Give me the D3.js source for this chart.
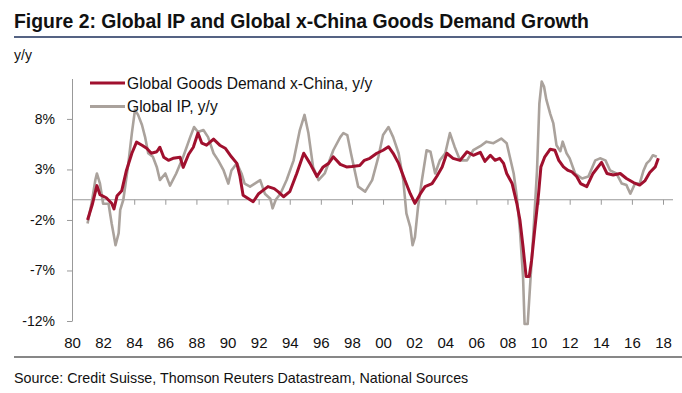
<!DOCTYPE html>
<html>
<head>
<meta charset="utf-8">
<script src="https://cdnjs.cloudflare.com/ajax/libs/d3/7.8.5/d3.min.js"></script>
<style>
body{margin:0;background:#fff;}
svg text{font-family:"Liberation Sans",Arial,sans-serif;fill:#111;}
</style>
</head>
<body>
<script>
// series, y/y %
var demandYears=[1981.0,1981.3,1981.6,1981.8,1982.2,1982.55,1982.7,1982.9,1983.2,1983.5,1983.85,1984.15,1984.5,1984.8,1985.1,1985.45,1985.65,1985.9,1986.2,1986.5,1986.95,1987.15,1987.5,1987.8,1988.1,1988.35,1988.65,1989.1,1989.5,1989.85,1990.25,1990.6,1990.8,1991.0,1991.35,1991.65,1992.0,1992.3,1992.6,1993.0,1993.25,1993.6,1994.0,1994.45,1994.9,1995.3,1995.75,1996.15,1996.5,1996.8,1997.25,1997.65,1998.0,1998.5,1998.8,1999.15,1999.6,2000.0,2000.35,2000.65,2001.0,2001.4,2001.75,2002.05,2002.4,2002.7,2003.15,2003.45,2003.8,2004.1,2004.5,2004.95,2005.4,2005.8,2006.25,2006.55,2006.9,2007.2,2007.5,2007.75,2007.95,2008.3,2008.6,2008.8,2009.0,2009.2,2009.4,2009.55,2009.75,2010.0,2010.15,2010.4,2010.75,2011.05,2011.3,2011.6,2011.9,2012.15,2012.45,2012.7,2013.1,2013.5,2014.05,2014.4,2014.8,2015.25,2015.65,2016.1,2016.5,2016.85,2017.15,2017.5,2017.7];
var demandValues=[-2.0,-0.5,1.4,0.5,0.2,-0.35,-0.9,0.4,0.9,2.9,4.6,5.7,5.4,5.1,4.6,4.75,5.2,4.2,3.9,4.1,4.2,3.2,4.5,5.2,6.6,5.6,5.4,6.0,5.4,5.1,4.25,3.6,2.3,0.45,0.1,-0.2,0.6,0.95,1.3,1.1,0.8,0.3,0.8,2.6,4.6,3.6,2.3,3.25,3.6,4.25,3.5,3.25,3.3,3.4,3.9,4.1,4.6,4.9,5.25,4.6,3.6,1.95,0.6,-0.35,0.6,1.3,1.6,2.3,3.25,4.6,4.1,3.9,4.75,4.4,4.7,3.8,4.4,3.9,4.1,3.6,2.6,1.6,-0.35,-2.0,-4.65,-7.6,-7.6,-6.0,-3.0,0.6,3.25,4.25,5.0,4.9,3.9,3.25,2.9,2.75,2.3,1.6,1.3,2.6,3.7,2.6,2.45,2.6,2.1,1.7,1.45,1.9,2.7,3.25,4.1];
var ipYears=[1981.0,1981.3,1981.5,1981.6,1981.8,1982.0,1982.35,1982.55,1982.65,1982.8,1983.0,1983.1,1983.3,1983.6,1983.85,1984.05,1984.25,1984.5,1984.7,1984.9,1985.2,1985.45,1985.65,1986.0,1986.3,1986.7,1987.15,1987.6,1987.85,1988.1,1988.45,1988.75,1989.1,1989.4,1989.75,1990.05,1990.25,1990.6,1990.9,1991.1,1991.45,1991.75,1992.1,1992.4,1992.75,1992.9,1993.1,1993.4,1993.8,1994.25,1994.65,1994.95,1995.2,1995.5,1995.85,1996.25,1996.8,1997.25,1997.45,1997.7,1997.95,1998.4,1998.85,1999.3,1999.7,2000.0,2000.35,2000.65,2001.0,2001.3,2001.5,2001.75,2001.9,2002.05,2002.25,2002.5,2002.8,2003.05,2003.35,2003.65,2004.0,2004.3,2004.6,2004.95,2005.4,2005.8,2006.25,2006.65,2007.1,2007.6,2007.95,2008.15,2008.4,2008.6,2008.8,2009.0,2009.1,2009.3,2009.45,2009.65,2009.9,2010.05,2010.2,2010.35,2010.5,2010.75,2010.95,2011.15,2011.4,2011.55,2011.8,2012.0,2012.35,2012.8,2013.2,2013.65,2013.95,2014.3,2014.6,2015.0,2015.35,2015.65,2015.9,2016.2,2016.5,2016.75,2016.95,2017.15,2017.35,2017.6];
var ipValues=[-2.35,0.0,1.95,2.6,1.6,-0.4,-0.4,-2.35,-3.2,-4.5,-3.3,-1.0,0.0,3.3,6.6,8.9,8.4,7.4,6.2,4.6,4.25,3.25,1.95,2.6,1.4,2.6,4.25,6.2,7.2,6.7,6.9,6.2,4.6,3.9,2.9,1.6,2.9,3.6,2.6,1.6,1.3,1.6,1.95,0.6,0.1,-0.85,0.0,0.6,1.95,3.9,6.9,8.4,6.6,3.25,1.95,2.6,4.9,6.2,6.6,6.4,4.5,1.3,0.8,1.95,4.25,6.4,7.2,6.2,4.6,1.95,-1.35,-2.7,-4.5,-3.7,-0.7,1.95,4.9,4.75,2.6,3.9,4.6,6.6,5.25,3.9,3.9,4.9,5.3,5.75,5.6,6.05,5.6,4.25,2.6,0.3,-3.0,-7.6,-12.3,-12.3,-8.6,-3.7,2.9,9.5,11.7,11.2,9.9,8.5,7.55,5.4,4.8,5.75,4.6,4.1,2.6,2.1,2.3,3.9,4.1,3.9,2.9,2.6,1.6,1.45,0.6,1.6,1.6,2.9,3.6,3.9,4.4,4.25];

var seriesNames=["Global Goods Demand x-China, y/y","Global IP, y/y"];
var seriesColors=["#a0102e","#aaa29c"];
var yTicks=[-12,-7,-2,3,8];
var xTicks=d3.range(1980,2019,2);

var demand=demandYears.map(function(d,i){return {x:d,y:demandValues[i]}});
var ip=ipYears.map(function(d,i){return {x:d,y:ipValues[i]}});

var svg=d3.select('body').append('svg')
    .attr('width',682)
    .attr('height',393);

var x=d3.scaleLinear().domain([1980,2018]).range([72,663]);
var y=d3.scaleLinear().domain([-12,12]).range([321,78.5]);

// title + rules
svg.append("text").attr("x",14).attr("y",28)
    .attr("font-size",19.4).attr("font-weight","bold")
    .text("Figure 2: Global IP and Global x-China Goods Demand Growth");
svg.append("line").attr("x1",14).attr("x2",682).attr("y1",37).attr("y2",37)
    .attr("stroke","#1c2f5a").attr("stroke-width",1.5);
svg.append("text").attr("x",14).attr("y",60).attr("font-size",14).text("y/y");

svg.append("line").attr("x1",14).attr("x2",682).attr("y1",357).attr("y2",357)
    .attr("stroke","#111").attr("stroke-width",1.2);
svg.append("text").attr("x",14).attr("y",383).attr("font-size",14.3)
    .text("Source: Credit Suisse, Thomson Reuters Datastream, National Sources");

// y axis
var yAxis=svg.append("g").attr("transform","translate(72,0)")
    .call(d3.axisLeft(y).tickValues(yTicks).tickSize(5).tickSizeOuter(0).tickPadding(12)
        .tickFormat(function(d){return d+"%"}));
yAxis.selectAll("path,line").attr("stroke","#999");
yAxis.selectAll("text").attr("font-size",14).attr("font-family",null);

// zero line with year ticks
var zeroAxis=svg.append("g").attr("transform","translate(0,"+y(0)+")")
    .call(d3.axisBottom(x).tickValues(xTicks).tickSize(5).tickSizeOuter(0).tickFormat(""));
zeroAxis.select(".domain").remove();
zeroAxis.selectAll("line").attr("stroke","#999");
svg.append("line").attr("x1",x(1980)).attr("x2",x(2018)+10)
    .attr("y1",y(0)).attr("y2",y(0)).attr("stroke","#999");

// year labels under the plot
var xAxis=svg.append("g").attr("transform","translate(0,"+y(-12)+")")
    .call(d3.axisBottom(x).tickValues(xTicks).tickSize(0).tickPadding(16)
        .tickFormat(function(d){return d3.format("02d")(d%100)}));
xAxis.select(".domain").remove();
xAxis.selectAll("text").attr("font-size",15).attr("font-family",null);

var line=d3.line()
    .x(function(d){return x(d.x)})
    .y(function(d){return y(d.y)});

svg.append("path").attr("d",line(ip))
    .attr("fill","none").attr("stroke",seriesColors[1]).attr("stroke-width",2.6)
    .attr("stroke-linejoin","round");
svg.append("path").attr("d",line(demand))
    .attr("fill","none").attr("stroke",seriesColors[0]).attr("stroke-width",3)
    .attr("stroke-linejoin","round");

// legend
var legend=svg.selectAll(".legend").data(seriesNames).enter().append("g")
    .attr("transform",function(d,i){return "translate(90,"+(83+i*23.5)+")"});
legend.append("line").attr("x1",0).attr("x2",35)
    .attr("stroke",function(d,i){return seriesColors[i]}).attr("stroke-width",3);
legend.append("text").attr("x",37).attr("y",5.5).attr("font-size",15.6)
    .text(function(d){return d});
</script>
</body>
</html>
